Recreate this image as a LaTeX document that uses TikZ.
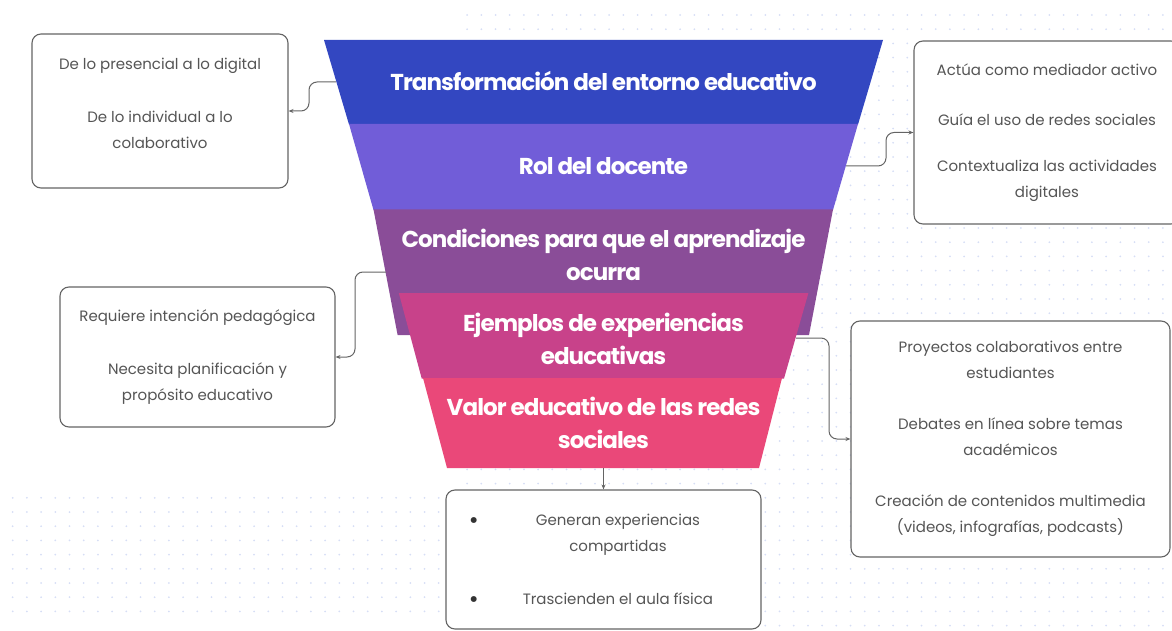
\documentclass[tikz,border=0pt]{standalone}
\usepackage{fontspec}
\setmainfont{Poppins}
\newfontfamily\capafont[LetterSpace=-4]{Poppins}
\definecolor{capaa}{RGB}{51,71,193}
\definecolor{capab}{RGB}{113,93,216}
\definecolor{capac}{RGB}{138,77,152}
\definecolor{capad}{RGB}{200,66,138}
\definecolor{capae}{RGB}{234,72,121}
\definecolor{boxgray}{RGB}{100,100,100}
\definecolor{textgray}{RGB}{85,85,85}
\definecolor{dotblue}{RGB}{214,222,245}
\usetikzlibrary{arrows.meta}
\usetikzlibrary{positioning}
\tikzset{
  capatext/.style={text=white, align=center, font=\capafont\bfseries\fontsize{23}{33}\selectfont},
  infobox/.style={draw=boxgray, line width=1.1pt, rounded corners=9pt, fill=white,
    align=center, text=textgray, font=\fontsize{15}{26}\selectfont},
  link/.style={draw=boxgray, line width=1pt, rounded corners=8pt, -{Stealth[length=5pt,width=4pt]}}
}
\newcommand{\itembullet}{\raisebox{-3pt}{\textcolor{black!80}{\fontsize{24}{26}\selectfont•}}}

\begin{document}
\begin{tikzpicture}[x=1pt,y=-1pt]
  \useasboundingbox (0,0) rectangle (1172,631);
  \clip (0,0) rectangle (1172,631);

  \foreach \i in {32,...,81} \foreach \j in {0,...,43}
    \fill[dotblue] (12.7+14.2*\i,15+14.2*\j) circle (1pt);
  \foreach \i in {0,...,31} \foreach \j in {34,...,42}
    \fill[dotblue] (12.7+14.2*\i,15+14.2*\j) circle (1pt);

  \fill[capaa] (324,40) -- (883,40) -- (858,124.5) -- (349,124.5) -- cycle;
  \fill[capab] (349,124) -- (858,124) -- (833,210) -- (373.5,210) -- cycle;
  \fill[capac] (373.5,209.5) -- (833,209.5) -- (809,335) -- (397.6,335) -- cycle;
  \fill[capad] (398.8,293) -- (808.4,293) -- (784,378.5) -- (421.7,378.5) -- cycle;
  \fill[capae] (423,378) -- (782,378) -- (759,468) -- (447,468) -- cycle;

  \node[capatext] (entorno) at (603.5,81) {Transformación del entorno educativo};
  \node[capatext] (docente) at (603.5,166) {Rol del docente};
  \node[capatext] (condiciones) at (603.5,254.5) {Condiciones para que el aprendizaje\\ocurra};
  \node[capatext] (ejemplos) at (603.5,338.5) {Ejemplos de experiencias\\educativas};
  \node[capatext] (valor) at (603.5,423) {Valor educativo de las redes\\sociales};

  \coordinate (sa) at (336,82);
  \coordinate (sb) at (846,166);
  \coordinate (sc) at (386,272);
  \coordinate (sd) at (796,338);
  \coordinate (se) at (603.5,468);

  \node[infobox, minimum width=256pt, minimum height=154pt, text depth=15pt] (presencial) at (160,111)
    {De lo presencial a lo digital\\[27pt]De lo individual a lo\\colaborativo};
  \node[infobox, minimum width=266pt, minimum height=183pt] (mediador) at (1047,132.5)
    {Actúa como mediador activo\\[24pt]Guía el uso de redes sociales\\[20pt]Contextualiza las actividades\\digitales};
  \node[infobox, minimum width=275pt, minimum height=140pt] (intencion) at (197.5,357)
    {Requiere intención pedagógica\\[27pt]Necesita planificación y\\propósito educativo};
  \node[infobox, minimum width=319pt, minimum height=236pt] (proyectos) at (1010.5,439)
    {Proyectos colaborativos entre\\estudiantes\\[25pt]Debates en línea sobre temas\\académicos\\[25pt]Creación de contenidos multimedia\\(videos, infografías, podcasts)};
  \node[infobox, minimum width=315pt, minimum height=139pt] (compartidas) at (603.5,559.5)
    {\begin{tabular}{@{}l@{\hspace{44pt}}c@{\hspace{25pt}}}
      \itembullet & Generan experiencias\\
      & compartidas\\[27pt]
      \itembullet & Trascienden el aula física
    \end{tabular}};

  \draw[link] (sa) -- ++(-27,0) |- (presencial.east);
  \draw[link] (sb) -- ++(40,0) |- (mediador.west);
  \draw[link] (sc) -- ++(-31,0) |- (intencion.east);
  \draw[link] (sd) -- ++(33,0) |- (proyectos.west);
  \draw[link] (se) -- (compartidas.north);

\end{tikzpicture}
\end{document}
